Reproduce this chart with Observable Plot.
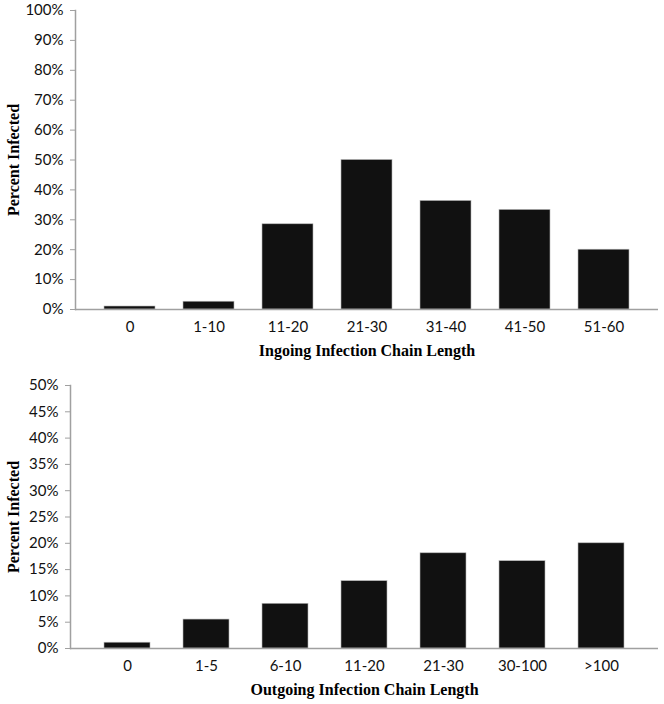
<!DOCTYPE html>
<html>
<head>
<meta charset="utf-8">
<script src="https://cdn.jsdelivr.net/npm/d3@7"></script>
<script src="https://cdn.jsdelivr.net/npm/@observablehq/plot@0.6"></script>
<style>
  body { margin: 0; background: #fff; }
  #chart { width: 664px; }
  #chart svg { display: block; }
  #chart g[aria-label$="axis label"] text {
    font: bold 16px "Liberation Serif", "Times New Roman", serif;
    fill: #000;
  }
</style>
</head>
<body>
<div id="chart"></div>
<script>
// Top panel: ingoing chain length
const inCats = ["0", "1-10", "11-20", "21-30", "31-40", "41-50", "51-60"];
const inValues = [1.0, 2.6, 28.5, 50.0, 36.3, 33.3, 20.0];
const inTicks = [0, 10, 20, 30, 40, 50, 60, 70, 80, 90, 100];

// Bottom panel: outgoing chain length
const outCats = ["0", "1-5", "6-10", "11-20", "21-30", "30-100", ">100"];
const outValues = [1.1, 5.5, 8.5, 12.8, 18.1, 16.6, 20.0];
const outTicks = [0, 5, 10, 15, 20, 25, 30, 35, 40, 45, 50];

const yTitle = "Percent Infected";
const inTitle = "Ingoing Infection Chain Length";
const outTitle = "Outgoing Infection Chain Length";

const inData = inCats.map((c, i) => ({cat: c, v: inValues[i]}));
const outData = outCats.map((c, i) => ({cat: c, v: outValues[i]}));

const axisGray = "#a0a0a0";
const tickFont = {fontFamily: "Lato, 'Open Sans', sans-serif", fontSize: "15px", background: "#fff", color: "#111"};

function panel({data, cats, ticks, ymax, xTitle, height, mt, ml, mb, pad, yLabelOffset}) {
  return Plot.plot({
    width: 664,
    height,
    marginTop: mt,
    marginLeft: ml,
    marginRight: 6,
    marginBottom: mb,
    style: tickFont,
    x: {domain: cats, padding: pad, label: null},
    y: {domain: [0, ymax], label: null},
    marks: [
      Plot.barY(data, {x: "cat", y: "v", fill: "#111111", stroke: "#b5b5b5", strokeWidth: 0.6}),
      Plot.ruleY([0], {stroke: axisGray, strokeWidth: 1.5}),
      Plot.frame({anchor: "left", stroke: axisGray, strokeWidth: 1.5}),
      Plot.axisY({
        ticks, tickSize: 5, tickPadding: 7, stroke: axisGray,
        tickFormat: d => d + "%",
        label: yTitle, labelAnchor: "center", labelArrow: false, labelOffset: yLabelOffset
      }),
      Plot.axisX({
        tickSize: 0, tickPadding: 12,
        label: xTitle, labelAnchor: "center", labelArrow: false, labelOffset: 46
      })
    ]
  });
}

const chart = document.getElementById("chart");
chart.append(panel({data: inData, cats: inCats, ticks: inTicks, ymax: 100, xTitle: inTitle,
  height: 362, mt: 10, ml: 75, mb: 53, pad: 0.35, yLabelOffset: 68}));
chart.append(panel({data: outData, cats: outCats, ticks: outTicks, ymax: 50, xTitle: outTitle,
  height: 342, mt: 23, ml: 70, mb: 56, pad: 0.42, yLabelOffset: 63}));
</script>
</body>
</html>
